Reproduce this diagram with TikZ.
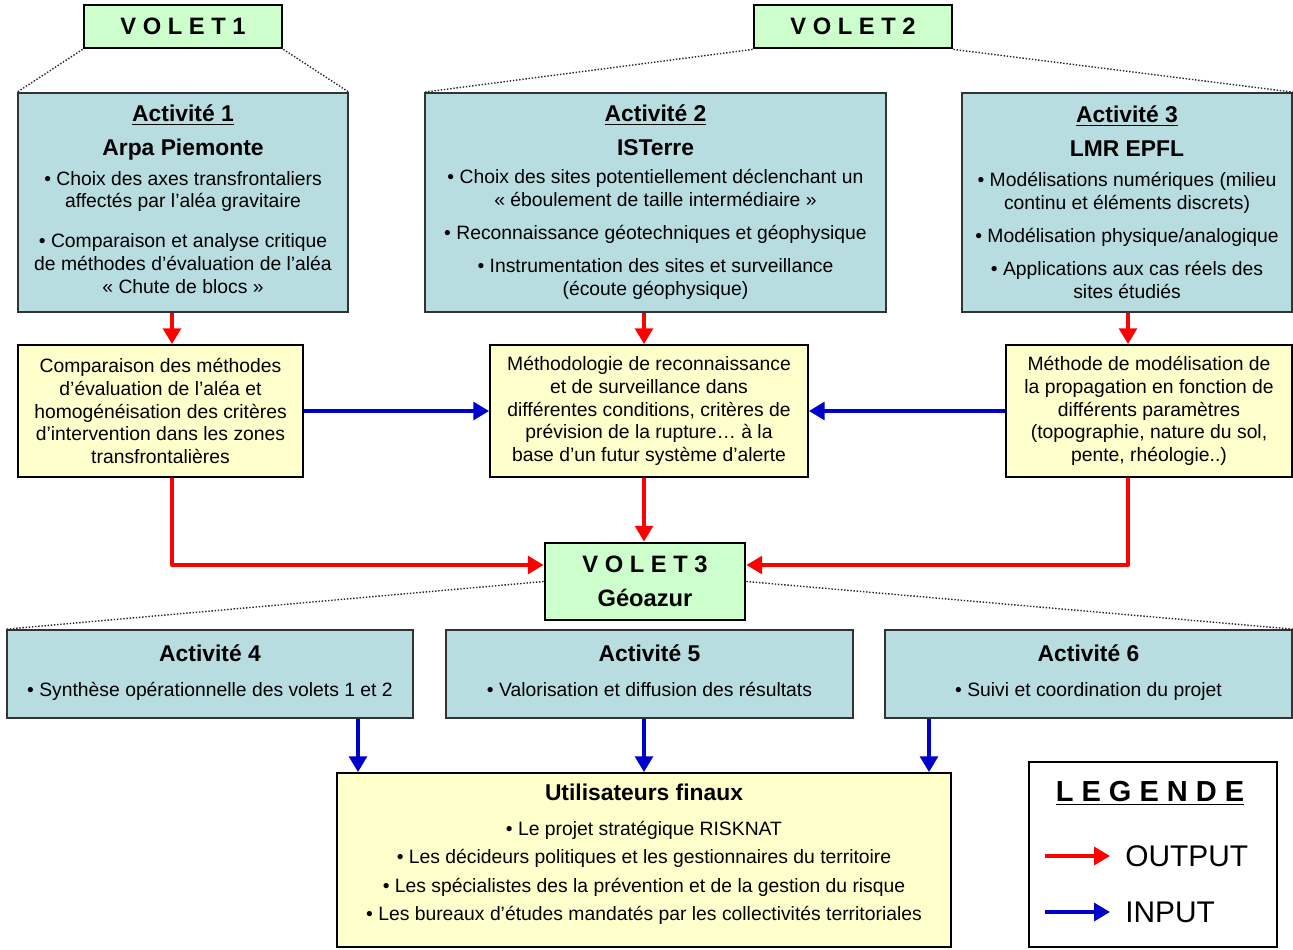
\documentclass[tikz,border=0pt]{standalone}
\usepackage{fontspec}
\setmainfont{Liberation Sans}
\usepackage{xcolor}
\usepackage{tikz}
\usetikzlibrary{arrows.meta}

\definecolor{vertvolet}{HTML}{CCFFCC}
\definecolor{bleuactiv}{HTML}{B7DDE0}
\definecolor{jauneres}{HTML}{FFFFCC}
\definecolor{rougeout}{HTML}{FF0000}
\definecolor{bleuin}{HTML}{0000CC}

\newcommand{\titreact}[1]{{\fontsize{13}{15}\selectfont\bfseries #1}}

\begin{document}
\begin{tikzpicture}[x=0.02cm, y=-0.02cm,
        volet/.style={draw, line width=1.6pt, fill=vertvolet, align=center, inner sep=0pt,
            font=\bfseries\fontsize{13.5}{15}\selectfont},
        activite/.style={draw=black!80, line width=1pt, fill=bleuactiv, align=center, inner sep=0pt,
            font=\fontsize{11}{13}\selectfont},
        resultat/.style={draw, line width=1pt, fill=jauneres, align=center, inner sep=0pt,
            minimum height=2.64cm, font=\fontsize{11}{13}\selectfont},
        lien/.style={black!85, line width=0.8pt, densely dotted},
        output/.style={rougeout, line width=2.3pt, line join=round, -{Triangle[length=9pt,width=10pt]}},
        input/.style={bleuin, line width=2.3pt, -{Triangle[length=9pt,width=10pt]}}]
        \useasboundingbox (0,0) rectangle (1293,949);

        % Volets 1 and 2
        \node[volet, minimum width=3.96cm, minimum height=0.86cm] (volet1) at (183,26.5) {V O L E T 1};
        \node[volet, minimum width=3.96cm, minimum height=0.86cm] (volet2) at (853,26.5) {V O L E T 2};

        % Activities 1-3
        \node[activite, minimum width=6.6cm, minimum height=4.38cm] (act1) at (183,202.5) {%
            \titreact{\underline{Activité 1}}\\[6pt]
            \titreact{Arpa Piemonte}\\[4pt]
            • Choix des axes transfrontaliers\\
            affectés par l’aléa gravitaire\\[9.5pt]
            • Comparaison et analyse critique\\
            de méthodes d’évaluation de l’aléa\\
            « Chute de blocs »\strut};
        \node[activite, minimum width=9.22cm, minimum height=4.38cm] (act2) at (655.5,202.5) {%
            \titreact{\underline{Activité 2}}\\[6pt]
            \titreact{ISTerre}\\[3pt]
            • Choix des sites potentiellement déclenchant un\\
            « éboulement de taille intermédiaire »\\[6pt]
            • Reconnaissance géotechniques et géophysique\\[6pt]
            • Instrumentation des sites et surveillance\\
            (écoute géophysique)};
        \node[activite, minimum width=6.6cm, minimum height=4.38cm] (act3) at (1127,202.5) {%
            \titreact{\underline{Activité 3}}\\[6pt]
            \titreact{LMR EPFL}\\[4pt]
            • Modélisations numériques (milieu\\
            continu et éléments discrets)\\[6pt]
            • Modélisation physique/analogique\\[6pt]
            • Applications aux cas réels des\\
            sites étudiés};

        % Dotted links
        \draw[lien] (volet1.south west) -- (act1.north west);
        \draw[lien] (volet1.south east) -- (act1.north east);
        \draw[lien] (volet2.south west) -- (act2.north west);
        \draw[lien] (volet2.south east) -- (act3.north east);

        % Results
        \node[resultat, minimum width=5.7cm] (res1) at (160.5,411) {%
            Comparaison des méthodes\\
            d’évaluation de l’aléa et\\
            homogénéisation des critères\\
            d’intervention dans les zones\\
            transfrontalières};
        \node[resultat, minimum width=6.36cm] (res2) at (649,411) {%
            Méthodologie de reconnaissance\\
            et de surveillance dans\\
            différentes conditions, critères de\\
            prévision de la rupture… à la\\
            base d’un futur système d’alerte};
        \node[resultat, minimum width=5.72cm] (res3) at (1149,411) {%
            Méthode de modélisation de\\
            la propagation en fonction de\\
            différents paramètres\\
            (topographie, nature du sol,\\
            pente, rhéologie..)};

        % Volet 3
        \node[volet, minimum width=4cm, minimum height=1.54cm] (volet3) at (645,581.5) {%
            V O L E T 3\\[4pt]
            Géoazur};

        % Arrow columns
        \coordinate (col1) at (172,0);
        \coordinate (col2) at (644,0);
        \coordinate (col3) at (1128,0);
        \coordinate (row3) at (0,565);

        \draw[output] (act1.south -| col1) -- (res1.north -| col1);
        \draw[output] (act2.south -| col2) -- (res2.north -| col2);
        \draw[output] (act3.south -| col3) -- (res3.north -| col3);
        \draw[input] (res1.east) -- (res2.west);
        \draw[input] (res3.west) -- (res2.east);
        \draw[output] (res1.south -| col1) |- (volet3.west |- row3);
        \draw[output] (res2.south -| col2) -- (volet3.north -| col2);
        \draw[output] (res3.south -| col3) |- (volet3.east |- row3);

        % Activities 4-6
        \node[activite, minimum width=8.12cm, minimum height=1.76cm] (act4) at (210,674) {%
            \titreact{Activité 4}\\[7pt]
            • Synthèse opérationnelle des volets 1 et 2\strut};
        \node[activite, minimum width=8.14cm, minimum height=1.76cm] (act5) at (649.5,674) {%
            \titreact{Activité 5}\\[7pt]
            • Valorisation et diffusion des résultats\strut};
        \node[activite, minimum width=8.14cm, minimum height=1.76cm] (act6) at (1088.5,674) {%
            \titreact{Activité 6}\\[7pt]
            • Suivi et coordination du projet\strut};

        \draw[lien] (volet3.west) -- (act4.north west);
        \draw[lien] (volet3.east) -- (act6.north east);

        % End users
        \node[resultat, minimum width=12.28cm, minimum height=3.48cm] (users) at (644,860) {%
            \titreact{Utilisateurs finaux}\\[7pt]
            • Le projet stratégique RISKNAT\\[3pt]
            • Les décideurs politiques et les gestionnaires du territoire\\[3pt]
            • Les spécialistes des la prévention et de la gestion du risque\\[3pt]
            • Les bureaux d’études mandatés par les collectivités territoriales\\[-4pt]};

        \coordinate (bas1) at (358,0);
        \coordinate (bas2) at (644,0);
        \coordinate (bas3) at (929,0);
        \draw[input] (act4.south -| bas1) -- (users.north -| bas1);
        \draw[input] (act5.south -| bas2) -- (users.north -| bas2);
        \draw[input] (act6.south -| bas3) -- (users.north -| bas3);

        % Legend
        \node[draw, line width=1.3pt, fill=white, minimum width=4.96cm, minimum height=3.7cm] (legende) at (1153,854.5) {};
        \node[font=\bfseries\fontsize{16.5}{18}\selectfont] (legtitre) at (1150,793) {\underline{L E G E N D E}};
        \node[anchor=west, inner sep=0pt, font=\fontsize{17}{20}\selectfont] (legout) at (1125,856) {OUTPUT};
        \node[anchor=west, inner sep=0pt, font=\fontsize{17}{20}\selectfont] (legin) at (1125,912) {INPUT};
        \coordinate (kout) at (1045,856);
        \coordinate (kin) at (1045,912);
        \draw[output] (kout) -- ([xshift=-0.3cm]legout.west);
        \draw[input] (kin) -- ([xshift=-0.3cm]legin.west);
    \end{tikzpicture}
\end{document}
